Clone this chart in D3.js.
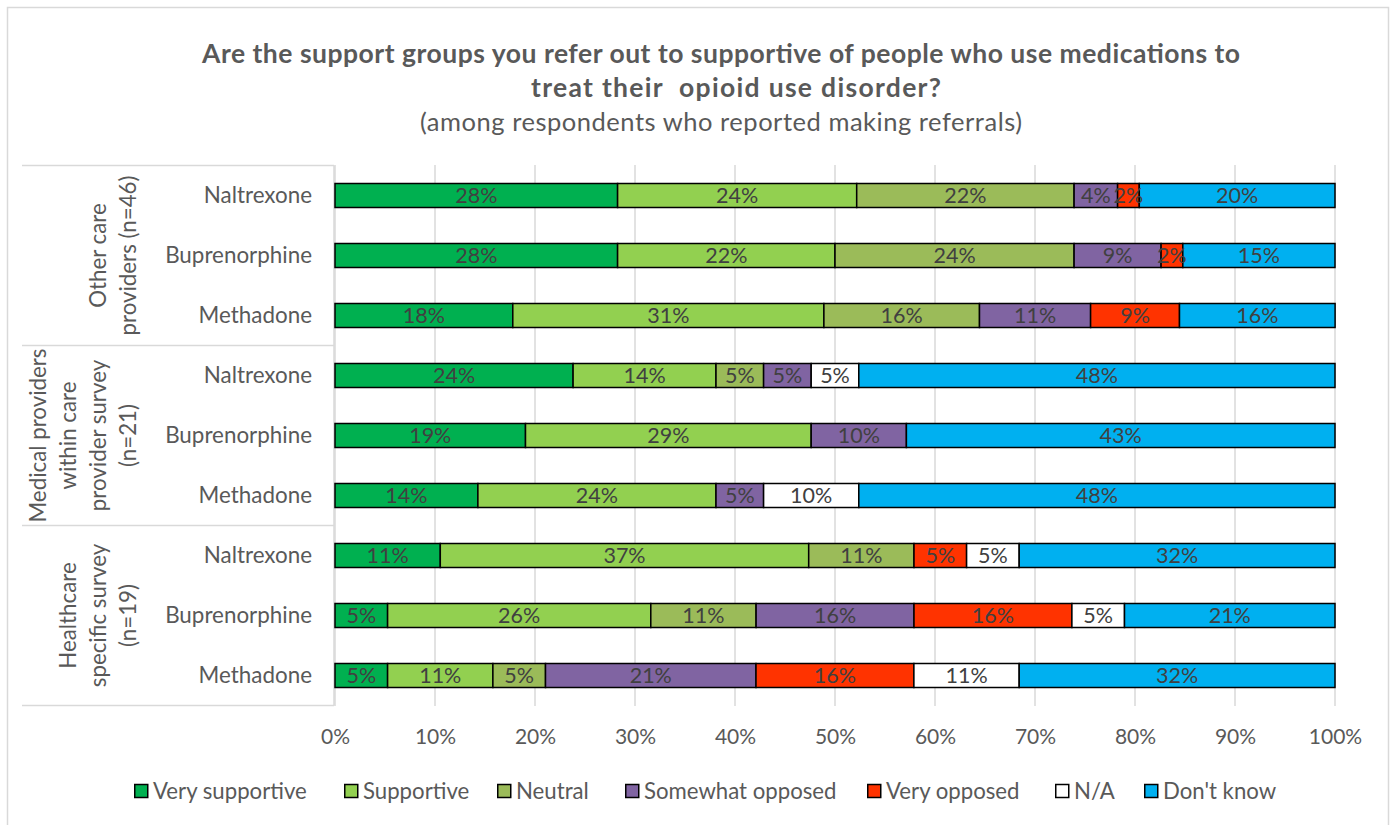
<!DOCTYPE html>
<html>
<head>
<meta charset="utf-8">
<script src="https://cdn.jsdelivr.net/npm/d3@7"></script>
<style>
  html, body { margin: 0; padding: 0; background: #fff; }
  svg { display: block; font-family: Lato, "Open Sans", sans-serif; }
</style>
</head>
<body>
<svg id="chart" width="1395" height="825"></svg>
<script>
// Survey groups (top to bottom) and the medications asked about within each
const groups = [
  ["Other care", "providers (n=46)"],
  ["Medical providers", "within care", "provider survey", "(n=21)"],
  ["Healthcare", "specific survey", "(n=19)"]
];
const medications = ["Naltrexone", "Buprenorphine", "Methadone"];

// Response categories and their fills
const responses = ["Very supportive", "Supportive", "Neutral", "Somewhat opposed", "Very opposed", "N/A", "Don't know"];
const colors = ["#00b050", "#92d050", "#9bbb59", "#8064a2", "#ff3300", "#ffffff", "#00b0f0"];

// Share of respondents (%) per row: Other care N/B/M, Medical N/B/M, Healthcare N/B/M
const verySupportive  = [28.26, 28.26, 17.78, 23.81, 19.05, 14.29, 10.53, 5.26, 5.26];
const supportive      = [23.91, 21.74, 31.11, 14.29, 28.57, 23.81, 36.84, 26.32, 10.53];
const neutral         = [21.74, 23.91, 15.56, 4.76, 0, 0, 10.53, 10.53, 5.26];
const somewhatOpposed = [4.35, 8.70, 11.11, 4.76, 9.52, 4.76, 0, 15.79, 21.05];
const veryOpposed     = [2.17, 2.17, 8.89, 0, 0, 0, 5.26, 15.79, 15.79];
const notApplicable   = [0, 0, 0, 4.76, 0, 9.52, 5.26, 5.26, 10.53];
const dontKnow        = [19.57, 15.22, 15.56, 47.62, 42.86, 47.62, 31.58, 21.05, 31.58];

const xTicks = [0, 10, 20, 30, 40, 50, 60, 70, 80, 90, 100];

const titleLines = ["Are the support groups you refer out to supportive of people who use medications to",
                    "treat their  opioid use disorder?"];
const subtitle = "(among respondents who reported making referrals)";

// ---- build the row table ----
const seriesValues = [verySupportive, supportive, neutral, somewhatOpposed, veryOpposed, notApplicable, dontKnow];
const rows = [];
groups.forEach((g, gi) => medications.forEach((m, mi) => {
  const r = { id: gi + "-" + m, med: m, group: gi };
  responses.forEach((resp, si) => { r[resp] = seriesValues[si][gi * medications.length + mi]; });
  rows.push(r);
}));

const svg = d3.select("#chart");
const textColor = "#595959";

// outer frame
svg.append("rect").attr("x", 7.5).attr("y", 7.5).attr("width", 1381).attr("height", 840)
  .attr("fill", "#fff").attr("stroke", "#d9d9d9").attr("stroke-width", 1.5);

// scales
const x = d3.scaleLinear().domain([0, 100]).range([335, 1335]);
const y = d3.scaleBand().domain(rows.map(d => d.id)).range([165.5, 705.5])
  .paddingInner(0.6).paddingOuter(0.3);
const color = d3.scaleOrdinal().domain(responses).range(colors);

// title
svg.append("text").attr("x", 721).attr("y", 63).attr("text-anchor", "middle")
  .attr("font-weight", "bold").attr("font-size", 26.5).attr("fill", textColor)
  .attr("textLength", 1038).attr("lengthAdjust", "spacing")
  .text(titleLines[0]);
svg.append("text").attr("x", 736).attr("y", 97).attr("text-anchor", "middle")
  .attr("font-weight", "bold").attr("font-size", 26.5).attr("fill", textColor)
  .attr("textLength", 410).attr("lengthAdjust", "spacing")
  .style("white-space", "pre").text(titleLines[1]);
svg.append("text").attr("x", 721).attr("y", 131).attr("text-anchor", "middle")
  .attr("font-size", 25.5).attr("fill", textColor)
  .attr("textLength", 602).attr("lengthAdjust", "spacing")
  .text(subtitle);

// gridlines
svg.append("g").selectAll("line").data(xTicks).join("line")
  .attr("x1", d => x(d)).attr("x2", d => x(d))
  .attr("y1", 165).attr("y2", 706)
  .attr("stroke", "#d9d9d9").attr("stroke-width", 1.5);

// x axis labels
const xAxis = svg.append("g").attr("transform", "translate(0,705.5)")
  .call(d3.axisBottom(x).tickValues(xTicks).tickSize(0).tickPadding(24).tickFormat(d => d + "%"));
xAxis.select(".domain").remove();
xAxis.selectAll("text").attr("font-size", 21).attr("fill", textColor).attr("font-family", "Lato, 'Open Sans', sans-serif");

// group label table
const groupBands = groups.map((g, gi) => {
  const ids = rows.filter(r => r.group === gi).map(r => r.id);
  return { lines: g, top: y(ids[0]) - y.step() * y.paddingOuter(), bottom: y(ids[ids.length - 1]) + y.bandwidth() + y.step() * y.paddingOuter() };
});
const table = svg.append("g").attr("stroke", "#d9d9d9").attr("stroke-width", 1.5);
table.selectAll("line.h").data([groupBands[0].top, ...groupBands.map(b => b.bottom)]).join("line")
  .attr("class", "h").attr("x1", 22).attr("x2", 334).attr("y1", d => d).attr("y2", d => d);
table.append("line").attr("x1", 334).attr("x2", 334).attr("y1", groupBands[0].top).attr("y2", groupBands[2].bottom);

groupBands.forEach(b => {
  const cy = (b.top + b.bottom) / 2;
  b.lines.forEach((line, i) => {
    const lx = 128 - (b.lines.length - 1 - i) * 30;
    svg.append("text").attr("transform", `translate(${lx},${cy}) rotate(-90)`)
      .attr("text-anchor", "middle").attr("dy", "0.35em")
      .attr("font-size", 22.3).attr("fill", textColor).text(line);
  });
});

// medication labels
svg.append("g").selectAll("text").data(rows).join("text")
  .attr("x", 312).attr("y", d => y(d.id) + y.bandwidth() / 2).attr("dy", "0.35em")
  .attr("text-anchor", "end").attr("font-size", 22.4).attr("fill", textColor)
  .text(d => d.med);

// stacked bars
const stacked = d3.stack().keys(responses)(rows);
const layers = svg.append("g").selectAll("g").data(stacked).join("g")
  .attr("fill", d => color(d.key));
layers.selectAll("rect").data(d => d.filter(s => s[1] - s[0] > 0)).join("rect")
  .attr("x", s => x(s[0])).attr("width", s => x(s[1]) - x(s[0]))
  .attr("y", s => y(s.data.id)).attr("height", y.bandwidth())
  .attr("stroke", "#000").attr("stroke-width", 1.5);

// segment value labels
const labels = svg.append("g");
stacked.forEach(layer => {
  layer.filter(s => s[1] - s[0] > 0).forEach(s => {
    labels.append("text")
      .attr("x", x((s[0] + s[1]) / 2)).attr("y", y(s.data.id) + y.bandwidth() / 2).attr("dy", "0.35em")
      .attr("text-anchor", "middle").attr("font-size", 21.5).attr("fill", "#404040")
      .text(Math.round(s[1] - s[0]) + "%");
  });
});

// legend
const legendX = [134, 344, 497, 625, 867, 1055, 1144];
const legend = svg.append("g").selectAll("g").data(responses).join("g")
  .attr("transform", (d, i) => `translate(${legendX[i]},791)`);
legend.append("rect").attr("x", 0.75).attr("y", -6.5).attr("width", 13).attr("height", 13)
  .attr("fill", d => color(d)).attr("stroke", "#000").attr("stroke-width", 1.5);
legend.append("text").attr("x", 19).attr("dy", "0.35em").attr("font-size", 22.2)
  .attr("fill", textColor).text(d => d);
</script>
</body>
</html>
